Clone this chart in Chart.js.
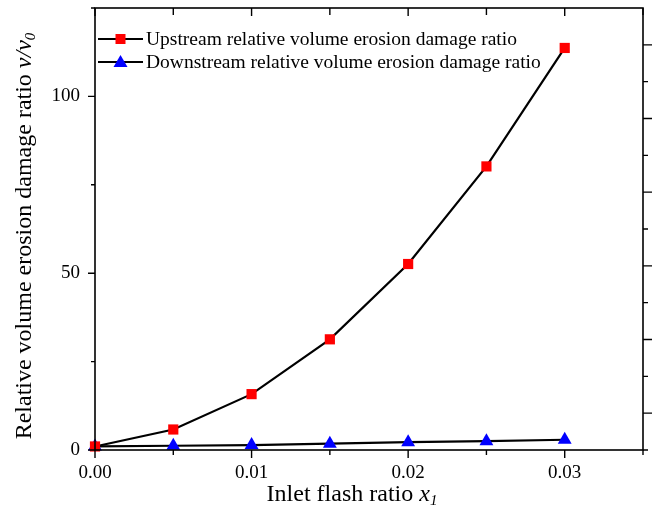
<!DOCTYPE html>
<html>
<head>
<meta charset="utf-8">
<script src="https://cdn.jsdelivr.net/npm/chart.js@4.4.1/dist/chart.umd.min.js"></script>
<style>
  body { margin: 0; background: #fff; }
  #chart_container { width: 657px; height: 526px; position: relative; }
</style>
</head>
<body>
<div id="chart_container"><canvas id="myChart"></canvas></div>
<script>
// values
var xValues = [0, 0.005, 0.01, 0.015, 0.02, 0.025, 0.03];
var upstream = [1, 5.8, 15.8, 31.3, 52.6, 80.2, 113.7];
var downstream = [1, 1.2, 1.4, 1.8, 2.2, 2.5, 2.9];
var seriesNames = ["Upstream relative volume erosion damage ratio", "Downstream relative volume erosion damage ratio"];
var xTickLabels = ["0.00", "0.01", "0.02", "0.03"];
var yTickLabels = ["0", "50", "100"];

var serif = "'Liberation Serif', 'Times New Roman', serif";

function toPoints(ys){
    var pts = [];
    for (var i = 0; i < xValues.length; i++) {
        pts.push({x: xValues[i], y: ys[i]});
    }
    return pts;
}

// frame, ticks, legend and axis titles drawn on top
var decorPlugin = {
    id: 'decor',
    afterDraw: function(chart){
        var ctx = chart.ctx;
        var a = chart.chartArea;
        var sx = chart.scales.x, sy = chart.scales.y, sy2 = chart.scales.y2;
        ctx.save();
        ctx.strokeStyle = '#000';
        ctx.lineWidth = 1.6;
        ctx.strokeRect(a.left, a.top, a.right - a.left, a.bottom - a.top);

        ctx.lineWidth = 1.4;
        ctx.beginPath();
        // bottom (outward) and top (inward) ticks
        for (var i = 0; i <= 7; i++) {
            var v = i * 0.005;
            var px = sx.getPixelForValue(v);
            var major = (i % 2 === 0);
            ctx.moveTo(px, a.bottom); ctx.lineTo(px, a.bottom + (major ? 8 : 5));
            ctx.moveTo(px, a.top); ctx.lineTo(px, a.top + (major ? 8 : 7));
        }
        // left ticks
        for (var j = 0; j <= 5; j++) {
            var py = sy.getPixelForValue(j * 25);
            ctx.moveTo(a.left, py); ctx.lineTo(a.left - (j % 2 === 0 ? 7 : 4), py);
        }
        // right ticks
        for (var k = 0; k <= 11; k++) {
            var pr = sy2.getPixelForValue(k);
            ctx.moveTo(a.right, pr); ctx.lineTo(a.right + (k % 2 === 1 ? 9 : 5), pr);
        }
        ctx.stroke();

        // legend
        var ds = chart.data.datasets;
        var rows = [39, 62];
        ctx.font = '19.5px ' + serif;
        ctx.textBaseline = 'middle';
        ctx.fillStyle = '#000';
        for (var d = 0; d < ds.length; d++) {
            var y = rows[d];
            ctx.strokeStyle = '#000';
            ctx.lineWidth = 2.2;
            ctx.beginPath();
            ctx.moveTo(98, y); ctx.lineTo(143, y);
            ctx.stroke();
            ctx.fillStyle = ds[d].pointBackgroundColor;
            ctx.beginPath();
            if (ds[d].pointStyle === 'rect') {
                ctx.rect(115.5, y - 5, 10, 10);
            } else {
                ctx.moveTo(120.5, y - 7); ctx.lineTo(127.5, y + 5); ctx.lineTo(113.5, y + 5); ctx.closePath();
            }
            ctx.fill();
            ctx.fillStyle = '#000';
            ctx.fillText(ds[d].label, 146, y + 1);
        }

        // x title
        drawTitle(ctx, [
            {t: 'Inlet flash ratio ', f: '24px ' + serif, dy: 0},
            {t: 'x', f: 'italic 24px ' + serif, dy: 0},
            {t: '1', f: 'italic 15px ' + serif, dy: 6}
        ], 352, 495, 0);

        // y title
        drawTitle(ctx, [
            {t: 'Relative volume erosion damage ratio ', f: '24px ' + serif, dy: 0},
            {t: 'v/v', f: 'italic 24px ' + serif, dy: 0},
            {t: '0', f: 'italic 15px ' + serif, dy: 6}
        ], 25, 236, -Math.PI / 2);

        ctx.restore();
    }
};

function drawTitle(ctx, parts, cx, cy, rot){
    ctx.save();
    ctx.translate(cx, cy);
    ctx.rotate(rot);
    ctx.textBaseline = 'middle';
    ctx.fillStyle = '#000';
    var total = 0;
    for (var i = 0; i < parts.length; i++) {
        ctx.font = parts[i].f;
        total += ctx.measureText(parts[i].t).width;
    }
    var x = -total / 2;
    for (var i = 0; i < parts.length; i++) {
        ctx.font = parts[i].f;
        ctx.fillText(parts[i].t, x, parts[i].dy);
        x += ctx.measureText(parts[i].t).width;
    }
    ctx.restore();
}

function noPad(s){
    s.paddingTop = 0; s.paddingBottom = 0;
    s.paddingLeft = 0; s.paddingRight = 0;
}

var ctx = document.getElementById("myChart").getContext('2d');

var myChart = new Chart(ctx, {
    type: 'line',
    data: {
        datasets: [{
            label: seriesNames[0],
            data: toPoints(upstream),
            borderColor: '#000',
            borderWidth: 2.2,
            pointStyle: 'rect',
            pointRadius: 7.2,
            pointBackgroundColor: '#ff0000',
            pointBorderColor: '#ff0000',
            pointBorderWidth: 0,
            clip: false
        }, {
            label: seriesNames[1],
            data: toPoints(downstream),
            borderColor: '#000',
            borderWidth: 2.2,
            pointStyle: 'triangle',
            pointRadius: 8,
            pointBackgroundColor: '#0000ff',
            pointBorderColor: '#0000ff',
            pointBorderWidth: 0,
            clip: false
        }]
    },
    options: {
        responsive: true,
        maintainAspectRatio: false,
        animation: false,
        layout: { padding: { top: 8, left: 0, right: 0, bottom: 0 } },
        plugins: {
            legend: { display: false },
            tooltip: { enabled: false }
        },
        scales: {
            x: {
                type: 'linear',
                min: 0,
                max: 0.035,
                grid: { display: false },
                border: { display: false },
                ticks: {
                    stepSize: 0.005,
                    autoSkip: false,
                    maxRotation: 0,
                    padding: 4,
                    color: '#000',
                    font: { family: serif, size: 19 },
                    callback: function(v){
                        var idx = Math.round(v / 0.01 * 1000) / 1000;
                        return Number.isInteger(idx) && idx < xTickLabels.length ? xTickLabels[idx] : '';
                    }
                },
                afterFit: function(s){ s.height = 76; noPad(s); }
            },
            y: {
                position: 'left',
                min: 0,
                max: 125,
                grid: { display: false },
                border: { display: false },
                ticks: {
                    stepSize: 25,
                    padding: 7,
                    color: '#000',
                    font: { family: serif, size: 19 },
                    callback: function(v){
                        var idx = v / 50;
                        return Number.isInteger(idx) && idx < yTickLabels.length ? yTickLabels[idx] : '';
                    }
                },
                afterFit: function(s){ s.width = 95; noPad(s); }
            },
            y2: {
                position: 'right',
                min: 0,
                max: 12,
                grid: { display: false },
                border: { display: false },
                ticks: { display: false },
                afterFit: function(s){ s.width = 14; noPad(s); }
            }
        }
    },
    plugins: [decorPlugin]
});
</script>
</body>
</html>
